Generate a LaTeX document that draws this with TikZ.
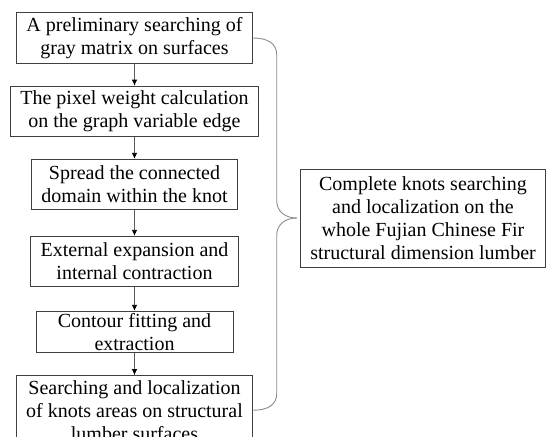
\documentclass[tikz,border=0pt]{standalone}
\usepackage{fontspec}
\setmainfont{Liberation Serif}
\usetikzlibrary{arrows.meta, positioning, calc}

\begin{document}
\begin{tikzpicture}[
    node distance=22pt,
    box/.style={rectangle, draw=black!75, line width=1pt, inner xsep=10pt, inner ysep=4.5pt, minimum height=50pt, align=center, font=\fontsize{20}{23}\selectfont},
    arrow/.style={draw=black!65, line width=0.8pt, -{Latex[length=6pt,width=5.5pt,fill=black,color=black]}},
    bracket/.style={draw=black!45, line width=0.9pt}
]
\useasboundingbox (0,0) rectangle (548pt,-436pt);

% Nodes
\node (prelim) [box] at (134.5pt,-38pt) {A preliminary searching of \\ gray matrix on surfaces};
\node (weight) [box, below=of prelim] {The pixel weight calculation \\ on the graph variable edge};
\node (spread) [box, below=of weight] {Spread the connected \\ domain within the knot};
\node (expand) [box, below=26pt of spread] {External expansion and \\ internal contraction};
\node (contour) [box, below=24pt of expand, minimum height=41pt, minimum width=197pt, inner ysep=2pt] {Contour fitting and \\ extraction};
\node (locate) [box, below=22pt of contour, minimum height=0pt] {Searching and localization \\ of knots areas on structural \\ lumber surfaces};

\node (whole) [box, minimum height=98pt] at (423pt,-218pt) {Complete knots searching \\ and localization on the \\ whole Fujian Chinese Fir \\ structural dimension lumber};

% Arrows
\draw [arrow] (prelim) -- (weight);
\draw [arrow] (weight) -- (spread);
\draw [arrow] (spread) -- (expand);
\draw [arrow] (expand) -- (contour);
\draw [arrow] (contour) -- (locate);

% Brace
\coordinate (tip) at ([xshift=-3pt]whole.west);
\coordinate (spine) at ([xshift=-20pt]tip);
\draw [bracket] (prelim.east) .. controls +(14pt,0) and +(0,12pt) .. ($(prelim.east -| spine)+(0,-17pt)$)
    -- ($(spine)+(0,17pt)$) .. controls +(0,-10pt) and +(-12pt,0) .. (tip);
\draw [bracket] (locate.east) .. controls +(14pt,0) and +(0,-12pt) .. ($(locate.east -| spine)+(0,17pt)$)
    -- ($(spine)+(0,-17pt)$) .. controls +(0,10pt) and +(-12pt,0) .. (tip);

\end{tikzpicture}
\end{document}
